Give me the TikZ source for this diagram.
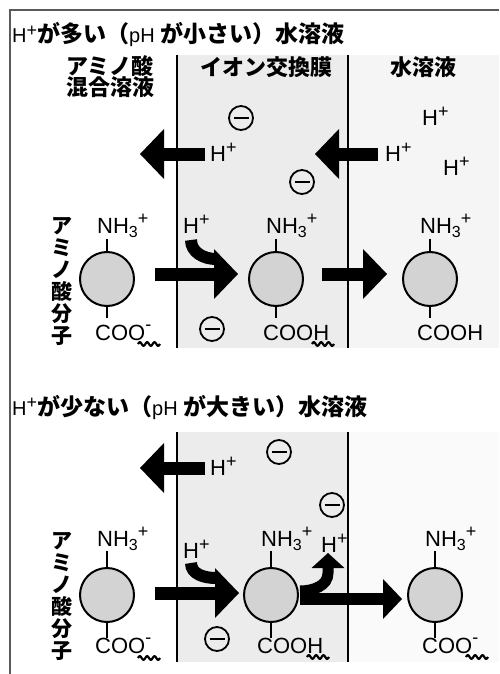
\documentclass[tikz,border=0pt]{standalone}
\usepackage{fontspec}
\setmainfont{Liberation Sans}
\newfontfamily\lat{Liberation Sans}
\newfontfamily\jp{Noto Sans CJK JP}
\usetikzlibrary{arrows.meta}
\definecolor{memgray}{RGB}{236,236,236}
\definecolor{solgray}{RGB}{245,245,245}
\definecolor{solgrayb}{RGB}{250,250,250}
\definecolor{molgray}{RGB}{211,211,211}
\definecolor{framegray}{RGB}{90,90,90}
\newcommand{\myHp}{H\raisebox{0.32em}{\lat\fontsize{18pt}{18pt}\selectfont +}}
\newcommand{\myNH}{NH\raisebox{-0.22em}{\lat\fontsize{16pt}{16pt}\selectfont 3}\raisebox{0.38em}{\lat\fontsize{18pt}{18pt}\selectfont +}}
\newcommand{\myCOOm}{COO\raisebox{0.42em}{\lat\fontsize{18pt}{18pt}\selectfont -}}
\newcommand{\myjb}{\jp\bfseries\fontsize{23pt}{23pt}\selectfont}
\newcommand{\mywave}[2]{\draw[wavy] plot[domain=0:22,samples=45] ({#1+\x},{#2-1.8*sin(\x*360/7.33)});}
\begin{document}
\begin{tikzpicture}[x=1pt,y=-1pt,
  lbl/.style={font=\lat\fontsize{22pt}{22pt}\selectfont, inner sep=0pt, anchor=base west},
  ttl/.style={font=\lat\fontsize{20pt}{20pt}\selectfont, inner sep=0pt, anchor=base west},
  hdr/.style={font=\jp\bfseries\fontsize{22pt}{21pt}\selectfont, inner sep=0pt, align=center},
  vlbl/.style={font=\jp\bfseries\fontsize{21pt}{22pt}\selectfont, inner sep=0pt, align=center},
  mol/.style={circle, draw, line width=2pt, fill=molgray, minimum size=54pt, inner sep=0pt},
  stem/.style={line width=2pt},
  negc/.style={circle, draw, line width=1.8pt, minimum size=24pt, inner sep=0pt,
    path picture={\draw[line width=2pt] ([xshift=-7.5pt]path picture bounding box.center) -- ([xshift=7.5pt]path picture bounding box.center);}},
  barrow/.style={line width=13pt, -{Triangle[length=24pt,width=50pt,line width=0pt]}},
  sarrow/.style={line width=12pt, -{Triangle[length=19pt,width=40pt,line width=0pt]}},
  uarrow/.style={line width=11pt, -{Triangle[length=15pt,width=33pt,line width=0pt]}},
  band/.style={line width=12pt},
  wavy/.style={line width=2.2pt},
  sep/.style={line width=2pt}
]
\useasboundingbox (0,0) rectangle (499,674);
\fill[white] (0,0) rectangle (499,674);
% frame
\draw[framegray, line width=1.3pt] (10,674) -- (10,10) -- (499,10);

% ===== top panel =====
\fill[memgray] (177,55) rectangle (348,348);
\fill[solgray] (348,55) rectangle (499,348);
\draw[sep] (177,55) -- (177,348);
\draw[sep] (348,55) -- (348,348);

\node[ttl] (t1) at (12,43) {\myHp{\myjb が多い（}pH {\myjb が小さい）水溶液}};
\node[hdr] (h1) at (110,77) {アミノ酸\\混合溶液};
\node[hdr] (h2) at (266,67) {イオン交換膜};
\node[hdr] (h3) at (423,67) {水溶液};

\node[negc] (n1) at (241,118) {};
\node[negc] (n2) at (302,182) {};
\node[negc] (n3) at (212,329) {};

\node[lbl] (p1) at (422,125) {\myHp};
\node[lbl] (p2) at (443,175) {\myHp};
\node[lbl] (p3) at (385,161) {\myHp};
\node[lbl] (p4) at (210,161) {\myHp};
\node[lbl] (p5) at (183,233) {\myHp};

\node[vlbl] (v1) at (62,281) {ア\\ミ\\ノ\\酸\\分\\子};

\node[mol] (m1) at (107,279) {};
\node[mol] (m2) at (276,279) {};
\node[mol] (m3) at (430,279) {};
\node[lbl] (a1) at (97,233) {\myNH};
\node[lbl] (a2) at (266,233) {\myNH};
\node[lbl] (a3) at (420,233) {\myNH};
\node[lbl] (c1) at (95,340) {\myCOOm};
\node[lbl] (c2) at (263,340) {COOH};
\node[lbl] (c3) at (417,340) {COOH};
\draw[stem] (m1.north) -- ++(0,-12);
\draw[stem] (m2.north) -- ++(0,-12);
\draw[stem] (m3.north) -- ++(0,-12);
\draw[stem] (m1.south) -- ++(0,11);
\draw[stem] (m2.south) -- ++(0,11);
\draw[stem] (m3.south) -- ++(0,11);
\mywave{138}{344}
\mywave{312}{344}

\coordinate (A1s) at (205,154); \coordinate (A1e) at (140,154);
\coordinate (A2s) at (378,154); \coordinate (A2e) at (315,154);
\coordinate (A3s) at (155,274); \coordinate (A3e) at (238,274);
\coordinate (A3c) at (191,240); \coordinate (A3j) at (216,259);
\coordinate (A4s) at (322,274); \coordinate (A4e) at (387,274);
\draw[barrow] (A1s) -- (A1e);
\draw[barrow] (A2s) -- (A2e);
\draw[band] (A3c) to[out=-90,in=180] (A3j);
\draw[barrow] (A3s) -- (A3e);
\draw[barrow] (A4s) -- (A4e);

% ===== bottom panel =====
\fill[memgray] (177,432) rectangle (348,662);
\fill[solgrayb] (348,432) rectangle (499,662);
\draw[sep] (177,432) -- (177,662);
\draw[sep] (348,432) -- (348,662);

\node[ttl] (t2) at (12,415) {\myHp{\myjb が少ない（}pH {\myjb が大きい）水溶液}};

\node[negc] (n4) at (279,452) {};
\node[negc] (n5) at (332,505) {};
\node[negc] (n6) at (217,639) {};

\node[lbl] (p6) at (210,475) {\myHp};
\node[lbl] (p7) at (183,558) {\myHp};
\node[lbl] (p8) at (321,552) {\myHp};

\node[vlbl] (v2) at (62,596) {ア\\ミ\\ノ\\酸\\分\\子};

\node[mol] (m4) at (107,595) {};
\node[mol] (m5) at (271,595) {};
\node[mol] (m6) at (435,595) {};
\node[lbl] (a4) at (97,546) {\myNH};
\node[lbl] (a5) at (261,546) {\myNH};
\node[lbl] (a6) at (425,546) {\myNH};
\node[lbl] (c4) at (95,653) {\myCOOm};
\node[lbl] (c5) at (257,653) {COOH};
\node[lbl] (c6) at (422,653) {\myCOOm};
\draw[stem] (m4.north) -- ++(0,-16);
\draw[stem] (m5.north) -- ++(0,-16);
\draw[stem] (m6.north) -- ++(0,-16);
\draw[stem] (m4.south) -- ++(0,15);
\draw[stem] (m5.south) -- ++(0,15);
\draw[stem] (m6.south) -- ++(0,15);
\mywave{138}{658}
\mywave{307}{657}
\mywave{466}{657}

\coordinate (B1s) at (205,468); \coordinate (B1e) at (140,468);
\coordinate (B2s) at (155,593); \coordinate (B2e) at (239,593);
\coordinate (B2c) at (191,563); \coordinate (B2j) at (216,578);
\coordinate (B3s) at (300,599); \coordinate (B3e) at (402,599);
\coordinate (B4s) at (300,591); \coordinate (B4k) at (328,573); \coordinate (B4e) at (328,553);
\draw[barrow] (B1s) -- (B1e);
\draw[band] (B2c) to[out=-90,in=180] (B2j);
\draw[barrow] (B2s) -- (B2e);
\draw[sarrow] (B3s) -- (B3e);
\draw[uarrow] (B4s) to[out=0,in=-90] (B4k) -- (B4e);
\end{tikzpicture}
\end{document}
